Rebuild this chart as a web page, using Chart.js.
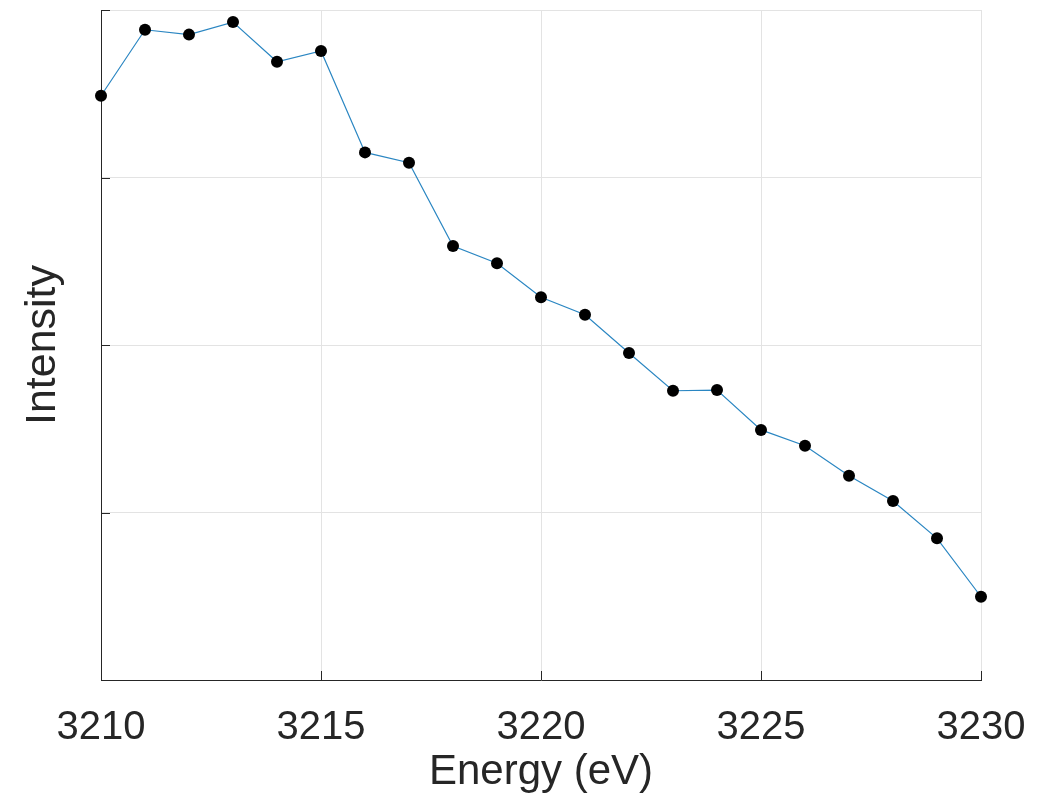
<!DOCTYPE html>
<html>
<head>
<meta charset="utf-8">
<script src="https://cdn.jsdelivr.net/npm/chart.js@4.4.0/dist/chart.umd.min.js"></script>
<style>
  html, body { margin: 0; padding: 0; background: #fff; }
  #wrap { width: 1045px; height: 797px; }
</style>
</head>
<body>
<div id="wrap"><canvas id="xas-chart"></canvas></div>
<script>
// energy axis (eV) and measured intensity (arb. units)
const energy = [3210, 3211, 3212, 3213, 3214, 3215, 3216, 3217, 3218, 3219, 3220,
                3221, 3222, 3223, 3224, 3225, 3226, 3227, 3228, 3229, 3230];
const intensity = [3.488, 3.882, 3.853, 3.928, 3.691, 3.755, 3.150, 3.088, 2.591, 2.488, 2.285,
                   2.181, 1.952, 1.727, 1.731, 1.493, 1.399, 1.220, 1.069, 0.846, 0.497];
const xTicks = [3210, 3215, 3220, 3225, 3230];
const yTicks = [0, 1, 2, 3, 4];

const axisColor = '#262626';
const gridColor = '#e3e3e3';

// matlab style ticks pointing into the plot
const inwardTicks = {
    id: 'inwardTicks',
    afterDatasetsDraw(chart) {
        const ctx = chart.ctx;
        const x = chart.scales.x;
        const y = chart.scales.y;
        const len = 9;
        ctx.save();
        ctx.strokeStyle = axisColor;
        ctx.lineWidth = 1;
        ctx.beginPath();
        xTicks.forEach(t => {
            const px = Math.round(x.getPixelForValue(t)) + 0.5;
            ctx.moveTo(px, y.bottom);
            ctx.lineTo(px, y.bottom - len);
        });
        yTicks.forEach(t => {
            const py = Math.round(y.getPixelForValue(t)) + 0.5;
            ctx.moveTo(x.left, py);
            ctx.lineTo(x.left + len, py);
        });
        ctx.stroke();
        ctx.restore();
    }
};

new Chart(document.querySelector('#xas-chart').getContext('2d'), {
    type: 'line',
    data: {
        datasets: [{
            label: 'Intensity',
            data: energy.map((e, i) => ({ x: e, y: intensity[i] })),
            borderColor: '#2a86c2',
            borderWidth: 1.2,
            backgroundColor: '#000',
            pointBackgroundColor: '#000',
            pointBorderColor: '#000',
            pointRadius: 6,
            pointBorderWidth: 0,
            tension: 0,
            clip: false
        }]
    },
    options: {
        responsive: true,
        maintainAspectRatio: false,
        animation: false,
        events: [],
        layout: { padding: { top: 10, right: 64, bottom: 0, left: 0 } },
        plugins: {
            legend: { display: false },
            tooltip: { enabled: false }
        },
        scales: {
            x: {
                type: 'linear',
                min: 3210,
                max: 3230,
                afterBuildTicks: axis => { axis.ticks = xTicks.map(v => ({ value: v })); },
                // let the last label hang into the layout padding
                afterFit: axis => { axis.paddingRight = 0; axis.paddingLeft = 0; },
                grid: { color: gridColor, drawTicks: false },
                border: { color: axisColor, width: 1 },
                ticks: {
                    color: axisColor,
                    padding: 28,
                    maxRotation: 0,
                    callback: v => String(v),
                    font: { family: 'Liberation Sans, Arial, sans-serif', size: 40, lineHeight: 1.0 }
                },
                title: {
                    display: true,
                    text: 'Energy (eV)',
                    color: axisColor,
                    padding: { top: -24.5, bottom: 3.5 },
                    font: { family: 'Liberation Sans, Arial, sans-serif', size: 42, lineHeight: 1.0 }
                }
            },
            y: {
                min: 0,
                max: 4,
                afterBuildTicks: axis => { axis.ticks = yTicks.map(v => ({ value: v })); },
                grid: { color: gridColor, drawTicks: false },
                border: { color: axisColor, width: 1 },
                ticks: { display: false },
                title: {
                    display: true,
                    text: 'Intensity',
                    color: axisColor,
                    padding: { top: 22, bottom: 36 },
                    font: { family: 'Liberation Sans, Arial, sans-serif', size: 43, lineHeight: 1.0 }
                }
            }
        }
    },
    plugins: [inwardTicks]
});
</script>
</body>
</html>
